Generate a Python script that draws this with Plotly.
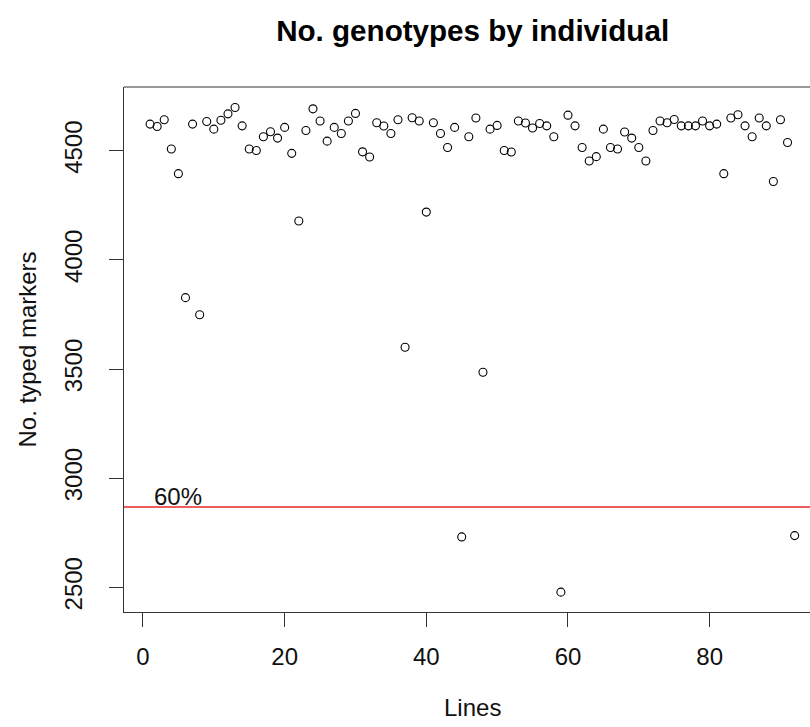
import plotly.graph_objects as go

lines = list(range(1, 93))
typed_markers = [
    4622, 4611, 4642, 4508, 4395, 3827, 4622, 3749, 4634, 4599,
    4640, 4669, 4698, 4614, 4508, 4501, 4564, 4587, 4558, 4607,
    4488, 4178, 4593, 4692, 4636, 4544, 4607, 4579, 4636, 4671,
    4495, 4471, 4628, 4613, 4579, 4642, 3600, 4651, 4636, 4219,
    4628, 4579, 4515, 4607, 2731, 4564, 4650, 3485, 4599, 4616,
    4501, 4494, 4636, 4627, 4604, 4625, 4614, 4564, 2478, 4663,
    4614, 4515, 4453, 4473, 4599, 4515, 4508, 4586, 4558, 4515,
    4453, 4593, 4636, 4628, 4643, 4614, 4614, 4614, 4636, 4614,
    4622, 4395, 4650, 4665, 4614, 4564, 4650, 4614, 4359, 4642,
    4538, 2737,
]
threshold = 2868
threshold_label = "60%"
x_ticks = [0, 20, 40, 60, 80]
y_ticks = [2500, 3000, 3500, 4000, 4500]

FONT = "Liberation Sans, Arial, sans-serif"
AX = "#333333"

fig = go.Figure()
fig.add_trace(go.Scatter(
    x=lines, y=typed_markers, mode="markers",
    marker=dict(symbol="circle-open", size=8, color="black", line=dict(width=1.1, color="black")),
    showlegend=False, hoverinfo="x+y",
))
fig.add_shape(type="line", xref="paper", x0=0, x1=1, yref="y", y0=threshold, y1=threshold,
              line=dict(color="#e8282a", width=1.5))
fig.add_shape(type="line", xref="paper", x0=0, x1=1, yref="paper", y0=1, y1=1,
              line=dict(color=AX, width=1.2))
fig.add_annotation(x=5, y=threshold, text=threshold_label, showarrow=False,
                   yanchor="middle", xanchor="center", yshift=11,
                   font=dict(family=FONT, size=24, color="#111111"))
fig.add_annotation(xref="paper", yref="paper", x=0.508, y=-0.182, text="Lines", showarrow=False,
                   xanchor="center", yanchor="middle", font=dict(family=FONT, size=24, color="#111111"))
fig.add_annotation(xref="paper", yref="paper", x=-0.14, y=0.5, text="No. typed markers", showarrow=False,
                   textangle=-90, xanchor="center", yanchor="middle",
                   font=dict(family=FONT, size=24, color="#111111"))

fig.update_layout(
    width=810, height=727,
    margin=dict(l=124, r=0, t=87, b=115),
    paper_bgcolor="white", plot_bgcolor="white",
    title=dict(text="<b>No. genotypes by individual</b>", x=0.5835, xref="container", xanchor="center",
               y=0.958, yref="container", yanchor="middle",
               font=dict(family=FONT, size=29.6, color="black")),
    xaxis=dict(range=[-2.68, 94.17], tickvals=x_ticks, ticks="outside", ticklen=14, tickwidth=1.2,
               tickcolor=AX, showline=True, linecolor=AX, linewidth=1.2, showgrid=False, zeroline=False,
               ticklabelstandoff=9,
               tickfont=dict(family=FONT, size=24, color="#111111")),
    yaxis=dict(range=[2387, 4792], tickvals=y_ticks, ticks="outside", ticklen=14, tickwidth=1.2,
               tickcolor=AX, showline=True, linecolor=AX, linewidth=1.2, showgrid=False, zeroline=False,
               tickangle=-90, ticklabelstandoff=17,
               tickfont=dict(family=FONT, size=24, color="#111111")),
)
fig.write_html("out.html")
